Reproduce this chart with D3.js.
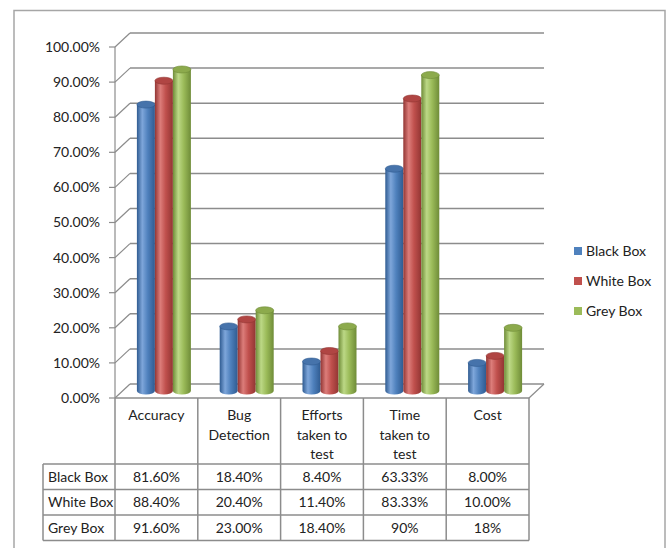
<!DOCTYPE html>
<html>
<head>
<meta charset="utf-8">
<script src="https://cdn.jsdelivr.net/npm/d3@7"></script>
<style>
  html, body { margin: 0; padding: 0; background: #fff; }
  svg { display: block; }
  text { font-family: Lato, "Open Sans", sans-serif; fill: #222; }
</style>
</head>
<body>
<svg id="chart" width="670" height="548"></svg>
<script>
// Testing approaches compared across five criteria
const categories = ["Accuracy", "Bug Detection", "Efforts taken to test", "Time taken to test", "Cost"];
const categoryLines = [["Accuracy"], ["Bug", "Detection"], ["Efforts", "taken to", "test"], ["Time", "taken to", "test"], ["Cost"]];
const seriesNames = ["Black Box", "White Box", "Grey Box"];
const blackBox = [81.6, 18.4, 8.4, 63.33, 8.0];
const whiteBox = [88.4, 20.4, 11.4, 83.33, 10.0];
const greyBox = [91.6, 23.0, 18.4, 90, 18];
const tableLabels = [
  ["81.60%", "18.40%", "8.40%", "63.33%", "8.00%"],
  ["88.40%", "20.40%", "11.40%", "83.33%", "10.00%"],
  ["91.60%", "23.00%", "18.40%", "90%", "18%"]
];
const yTicks = [0, 10, 20, 30, 40, 50, 60, 70, 80, 90, 100];
const seriesValues = [blackBox, whiteBox, greyBox];

const colors = [
  { base: "#4f81bd", light: "#7ea6da", dark: "#2f5b91", top: "#4673ab" },
  { base: "#c0504d", light: "#dc7d7a", dark: "#923533", top: "#b04543" },
  { base: "#9bbb59", light: "#bcd886", dark: "#6f8c38", top: "#8caa4c" }
];

const svg = d3.select("#chart");
const defs = svg.append("defs");
colors.forEach((c, i) => {
  const g = defs.append("linearGradient").attr("id", "cyl" + i)
    .attr("x1", "0%").attr("x2", "100%").attr("y1", "0%").attr("y2", "0%");
  g.append("stop").attr("offset", "0%").attr("stop-color", c.dark);
  g.append("stop").attr("offset", "30%").attr("stop-color", c.light);
  g.append("stop").attr("offset", "60%").attr("stop-color", c.base);
  g.append("stop").attr("offset", "100%").attr("stop-color", c.dark);
});

// plot geometry
const plotLeft = 115, plotRight = 529, plotTop = 47, plotFloor = 398;
const depthX = 15, depthY = -14;
const x = d3.scaleBand().domain(categories).range([plotLeft, plotRight]);
const y = d3.scaleLinear().domain([0, 100]).range([plotFloor, plotTop]);
const gridColor = "#8c8c8c";

// outer frame
svg.append("path")
  .attr("d", "M14,548 L14,10.5 L665,10.5 L665,548")
  .attr("fill", "none").attr("stroke", "#a6a6a6").attr("stroke-width", 1.5);

// back wall gridlines and side-wall diagonals
const grid = svg.append("g");
yTicks.forEach(t => {
  const yy = y(t);
  grid.append("line")
    .attr("x1", plotLeft + depthX).attr("x2", plotRight + depthX)
    .attr("y1", yy + depthY).attr("y2", yy + depthY)
    .attr("stroke", gridColor).attr("stroke-width", 1.5);
  grid.append("line")
    .attr("x1", plotLeft).attr("x2", plotLeft + depthX)
    .attr("y1", yy).attr("y2", yy + depthY)
    .attr("stroke", gridColor).attr("stroke-width", 1.2);
  grid.append("line")
    .attr("x1", plotLeft - 6).attr("x2", plotLeft)
    .attr("y1", yy).attr("y2", yy)
    .attr("stroke", gridColor).attr("stroke-width", 1.2);
});
// floor right diagonal
grid.append("line")
  .attr("x1", plotRight).attr("x2", plotRight + depthX)
  .attr("y1", plotFloor).attr("y2", plotFloor + depthY)
  .attr("stroke", gridColor).attr("stroke-width", 1.2);

// y-axis tick labels
const yAxis = d3.axisLeft(y).tickValues(yTicks).tickSize(0).tickPadding(15)
  .tickFormat(d => d.toFixed(2) + "%");
const yg = svg.append("g").attr("transform", `translate(${plotLeft},0)`).call(yAxis);
yg.select(".domain").remove();
yg.selectAll("text").attr("font-size", 14).attr("font-family", "Lato, sans-serif").attr("fill", "#222");
svg.append("line").attr("x1", plotLeft).attr("x2", plotLeft).attr("y1", plotTop).attr("y2", plotFloor)
  .attr("stroke", gridColor).attr("stroke-width", 1.2);

// cylinders
const barW = 18, ry = 3.5;
const baseY = v => y(v) + depthY / 2;
const bars = svg.append("g");
categories.forEach((cat, ci) => {
  const cx0 = x(cat) + x.bandwidth() / 2 + depthX / 2 - barW * 1.5;
  seriesValues.forEach((vals, si) => {
    const bx = cx0 + si * barW;
    const yTop = baseY(vals[ci]);
    const yBot = baseY(0);
    const c = colors[si];
    bars.append("path")
      .attr("d", `M${bx},${yTop} L${bx},${yBot} A${barW / 2},${ry} 0 0 0 ${bx + barW},${yBot} L${bx + barW},${yTop} Z`)
      .attr("fill", `url(#cyl${si})`);
    bars.append("ellipse")
      .attr("cx", bx + barW / 2).attr("cy", yTop)
      .attr("rx", barW / 2).attr("ry", ry)
      .attr("fill", c.top).attr("stroke", c.dark).attr("stroke-width", 0.6);
  });
});

// data table
const tableColor = "#8c8c8c";
const rowTops = [464, 489.5, 515, 540.5];
const tbl = svg.append("g");
const colEdges = categories.map(c => x(c)).concat([plotRight]);
colEdges.forEach(cx => {
  tbl.append("line").attr("x1", cx).attr("x2", cx).attr("y1", plotFloor).attr("y2", rowTops[3])
    .attr("stroke", tableColor).attr("stroke-width", 1.5);
});
tbl.append("line").attr("x1", 43).attr("x2", 43).attr("y1", rowTops[0]).attr("y2", rowTops[3])
  .attr("stroke", tableColor).attr("stroke-width", 1.5);
tbl.append("line").attr("x1", plotLeft).attr("x2", plotRight).attr("y1", plotFloor).attr("y2", plotFloor)
  .attr("stroke", tableColor).attr("stroke-width", 1.5);
rowTops.forEach(ry0 => {
  tbl.append("line").attr("x1", 43).attr("x2", plotRight).attr("y1", ry0).attr("y2", ry0)
    .attr("stroke", tableColor).attr("stroke-width", 1.5);
});
// header labels
categories.forEach((cat, ci) => {
  const t = tbl.append("text")
    .attr("x", x(cat) + x.bandwidth() / 2).attr("y", 420)
    .attr("text-anchor", "middle").attr("font-size", 14);
  categoryLines[ci].forEach((ln, li) => {
    t.append("tspan").attr("x", x(cat) + x.bandwidth() / 2).attr("dy", li === 0 ? 0 : 19.5).text(ln);
  });
});
// rows
seriesNames.forEach((name, si) => {
  const cy = (rowTops[si] + rowTops[si + 1]) / 2 + 5;
  tbl.append("text").attr("x", 48).attr("y", cy).attr("font-size", 14).text(name);
  categories.forEach((cat, ci) => {
    tbl.append("text").attr("x", x(cat) + x.bandwidth() / 2).attr("y", cy)
      .attr("text-anchor", "middle").attr("font-size", 14).text(tableLabels[si][ci]);
  });
});

// legend
const legend = svg.append("g");
seriesNames.forEach((name, si) => {
  const ly = 251 + si * 30;
  legend.append("rect").attr("x", 574).attr("y", ly - 4).attr("width", 8).attr("height", 8)
    .attr("fill", colors[si].base);
  legend.append("text").attr("x", 586).attr("y", ly + 5).attr("font-size", 14).text(name);
});
</script>
</body>
</html>
